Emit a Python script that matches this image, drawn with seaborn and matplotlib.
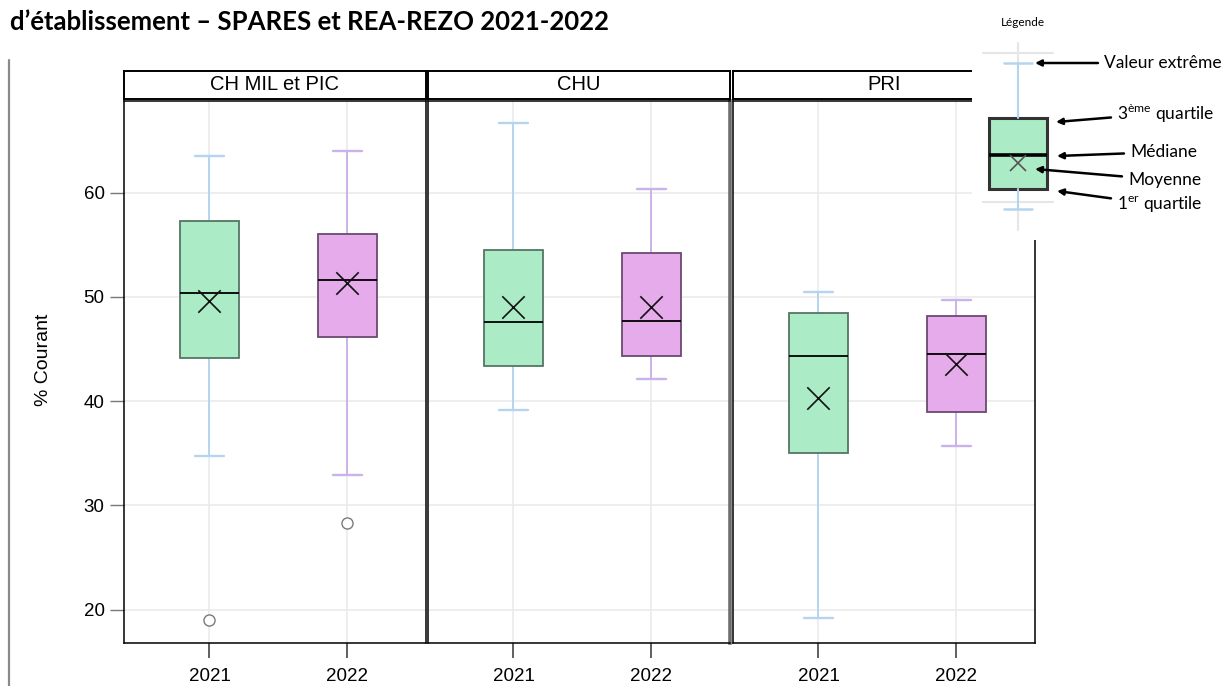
import matplotlib
matplotlib.use("Agg")
import matplotlib.pyplot as plt
from matplotlib.lines import Line2D
import numpy as np
import pandas as pd
import seaborn as sns

sns.set_theme(style="white")
plt.rcParams["font.family"] = ["Liberation Sans", "DejaVu Sans"]
plt.rcParams["mathtext.fontset"] = "custom"
plt.rcParams["mathtext.rm"] = "Lato"
plt.rcParams["text.color"] = "black"
plt.rcParams["xtick.labelcolor"] = "black"
plt.rcParams["ytick.labelcolor"] = "black"

# ---- data -------------------------------------------------------------
groups = ["CH MIL et PIC", "CHU", "PRI"]
years = ["2021", "2022"]

whisker_low = [[34.7, 32.9], [39.2, 42.1], [19.2, 35.7]]
q1 = [[44.1, 46.2], [43.4, 44.3], [35.0, 39.0]]
median = [[50.4, 51.6], [47.6, 47.7], [44.3, 44.5]]
q3 = [[57.3, 56.0], [54.5, 54.2], [48.5, 48.2]]
whisker_high = [[63.5, 64.0], [66.7, 60.4], [50.5, 49.7]]
mean = [[49.6, 51.3], [49.0, 49.0], [40.3, 43.6]]
outliers = [[[19.0], [28.3]], [[], []], [[], []]]

y_ticks = [20, 30, 40, 50, 60]

# schematic box used in the key (arbitrary units)
key_stats = dict(whislo=31, q1=51, med=85, mean=77, q3=122, whishi=177)
key_labels = ["Valeur extrême", "3$^{\\mathrm{ème}}$ quartile", "Médiane",
              "Moyenne", "1$^{\\mathrm{er}}$ quartile"]

# ---- styling ----------------------------------------------------------
fill_colors = ["#ABEBC6", "#E6ABEA"]
edge_colors = ["#557563", "#6B4A70"]
whisker_colors = ["#B5D5EF", "#C9B3EA"]
grid_color = "#EBEBEB"

W, H = 1224, 686
fig = plt.figure(figsize=(W / 100, H / 100), dpi=100)
fig.patch.set_facecolor("white")


def fx(px):
    return px / W


def fy(py):
    return 1 - py / H


panel_left = [124, 428, 733]
panel_width = 302
ax_top, ax_bottom = 101, 643
strip_top, strip_bottom = 71, 99

axes = []
for i, grp in enumerate(groups):
    ax = fig.add_axes([fx(panel_left[i]), fy(ax_bottom), fx(panel_width),
                       (ax_bottom - ax_top) / H])
    axes.append(ax)
    stats = []
    for j, yr in enumerate(years):
        stats.append(dict(med=median[i][j], q1=q1[i][j], q3=q3[i][j],
                          whislo=whisker_low[i][j], whishi=whisker_high[i][j],
                          fliers=np.array(outliers[i][j])))
    art = ax.bxp(stats, positions=[0, 1], widths=0.43, capwidths=0.21,
                 patch_artist=True, showfliers=True, manage_ticks=False,
                 medianprops=dict(color="black", lw=1.3),
                 flierprops=dict(marker="o", markerfacecolor="white",
                                 markeredgecolor="#7a7a7a", markersize=8,
                                 markeredgewidth=1.0))
    for j in range(2):
        art["boxes"][j].set(facecolor=fill_colors[j], edgecolor=edge_colors[j],
                            linewidth=1.3, zorder=3)
        art["medians"][j].set_zorder(4)
        for k in (2 * j, 2 * j + 1):
            art["whiskers"][k].set(color=whisker_colors[j], lw=1.4, zorder=2)
            art["caps"][k].set(color=whisker_colors[j], lw=1.7, zorder=2)

    # means as crosses
    mdf = pd.DataFrame({"pos": [0, 1], "mean": mean[i]})
    sns.scatterplot(data=mdf, x="pos", y="mean", marker="x", s=260,
                    color="#111111", linewidth=1.2, ax=ax, zorder=5,
                    legend=False)

    ax.set_xlim(-0.62, 1.57)
    ax.set_ylim(16.8, 68.8)
    ax.set_xticks([0, 1])
    ax.set_xticklabels(years)
    ax.set_yticks(y_ticks)
    ax.set_xlabel("")
    ax.set_ylabel("")
    ax.grid(True, color=grid_color, lw=1.2)
    ax.set_axisbelow(True)
    for s in ax.spines.values():
        s.set_color("black")
        s.set_linewidth(1.1)
    ax.tick_params(axis="x", bottom=True, length=11, width=1.2,
                   color="#444444", pad=7, labelsize=13.5)
    if i == 0:
        ax.tick_params(axis="y", left=True, length=10, width=1.0,
                       color="#777777", pad=4, labelsize=13.5)
    else:
        ax.tick_params(axis="y", left=False, labelleft=False)

    # strip header
    sax = fig.add_axes([fx(panel_left[i]), fy(strip_bottom), fx(panel_width),
                        (strip_bottom - strip_top) / H])
    sax.set_xticks([])
    sax.set_yticks([])
    sax.set_facecolor("white")
    for s in sax.spines.values():
        s.set_color("black")
        s.set_linewidth(1.4)
    sax.text(0.5, 0.5, grp, ha="center", va="center", fontsize=14.5,
             transform=sax.transAxes)

axes[1].spines["right"].set_color("#6e6e6e")
axes[1].spines["right"].set_linewidth(2.6)

fig.text(fx(44), fy(360), "% Courant", rotation=90, ha="center",
         va="center", fontsize=14)

fig.text(fx(10), fy(22), "d’établissement – SPARES et REA-REZO 2021-2022",
         ha="left", va="center", fontsize=18.5, fontweight="bold",
         family=["Lato", "DejaVu Sans"])

fig.add_artist(Line2D([fx(9), fx(9)], [fy(60), fy(686)], color="#8a8a8a",
                      lw=1.6, transform=fig.transFigure))

# ---- key ----------------------------------------------------------------
kax = fig.add_axes([fx(972), fy(240), fx(W - 972), 240 / H], zorder=10)
kax.set_facecolor("white")
for s in kax.spines.values():
    s.set_visible(False)
kax.set_xticks([])
kax.set_yticks([])
kax.set_xlim(0, W - 972)
kax.set_ylim(0, 240)

kx = 46
kax.axvline(kx, ymin=10 / 240, ymax=197 / 240, color="#E6E6E6", lw=1.5,
            zorder=0)
for yv in (187, 38):
    kax.plot([11, 81], [yv, yv], color="#E6E6E6", lw=1.5, zorder=0)

kart = kax.bxp([dict(key_stats, fliers=np.array([]))], positions=[kx],
               widths=58, capwidths=28, patch_artist=True, showfliers=False,
               manage_ticks=False,
               medianprops=dict(color="black", lw=2.6),
               boxprops=dict(facecolor=fill_colors[0], edgecolor="#333333",
                             linewidth=2.2),
               whiskerprops=dict(color=whisker_colors[0], lw=1.5),
               capprops=dict(color=whisker_colors[0], lw=1.8))
kax.plot([kx], [key_stats["mean"]], marker="x", color="#555555",
         markersize=11, mew=1.2, zorder=5)

arrow_kw = dict(arrowstyle="-|>", color="black", lw=1.8,
                mutation_scale=9, shrinkA=2, shrinkB=0)
heads = [(kx + 17, key_stats["whishi"]),
         (kx + 38, key_stats["q3"] - 4),
         (kx + 39, key_stats["med"] - 1),
         (kx + 17, key_stats["mean"] - 6),
         (kx + 39, key_stats["q1"] - 2)]
tails = [(132, 177), (145, 127), (158, 88), (156, 60), (145, 35)]
for lab, hd, tl in zip(key_labels, heads, tails):
    kax.annotate(lab, xy=hd, xytext=tl, ha="left", va="center",
                 fontsize=12.5, family=["Lato", "DejaVu Sans"],
                 arrowprops=arrow_kw)

kax.text(51, 217, "Légende", ha="center", va="center", fontsize=8.5,
         family=["Lato", "DejaVu Sans"])

fig.savefig("out.png", dpi=100, facecolor="white")
